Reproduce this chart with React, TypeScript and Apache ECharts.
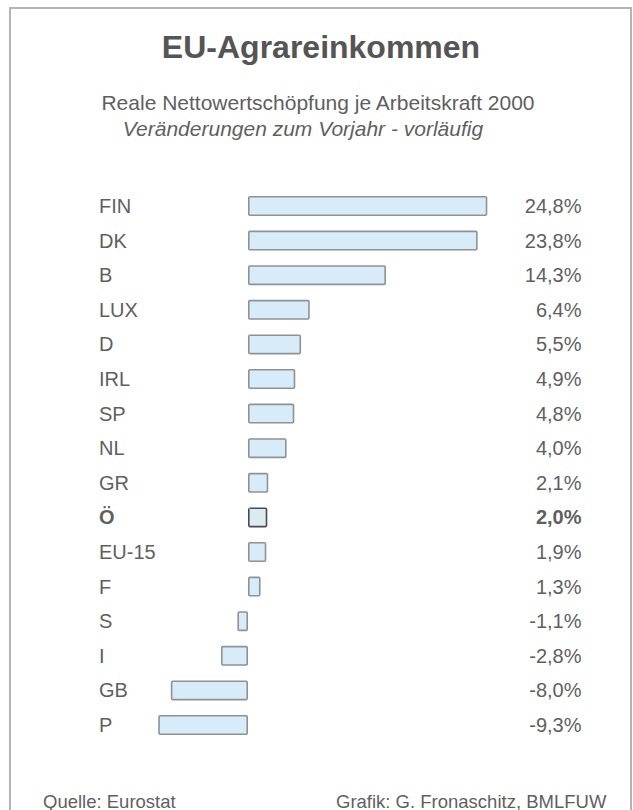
import React, { useEffect, useRef } from "react";
import * as echarts from "echarts";

const countries = ["FIN", "DK", "B", "LUX", "D", "IRL", "SP", "NL", "GR", "Ö", "EU-15", "F", "S", "I", "GB", "P"];
const changes = [24.8, 23.8, 14.3, 6.4, 5.5, 4.9, 4.8, 4.0, 2.1, 2.0, 1.9, 1.3, -1.1, -2.8, -8.0, -9.3];
const highlight = "Ö";

const title = "EU-Agrareinkommen";
const subtitle = "Reale Nettowertschöpfung je Arbeitskraft 2000";
const subtitle2 = "Veränderungen zum Vorjahr - vorläufig";
const sourceText = "Quelle: Eurostat";
const creditText = "Grafik: G. Fronaschitz, BMLFUW";

const FONT = "'Liberation Sans', Arial, sans-serif";
const TEXT = "#5f5f5f";

const fmt = (v: number) => v.toFixed(1).replace(".", ",") + "%";

export default function App() {
  const ref = useRef<HTMLDivElement>(null);
  useEffect(() => {
    if (!ref.current) return;
    const chart = echarts.init(ref.current, undefined, { renderer: "svg" });
    const leftStyle = { align: "left", fontSize: 20, color: TEXT, fontFamily: FONT };
    const rightStyle = { align: "right", fontSize: 20, color: TEXT, fontFamily: FONT };
    const leftLabels = countries.map((c) =>
      c === highlight ? { value: c, textStyle: { ...leftStyle, fontWeight: "bold" } } : c
    );
    const rightLabels = changes.map((v, i) =>
      countries[i] === highlight
        ? { value: fmt(v), textStyle: { ...rightStyle, fontWeight: "bold" } }
        : fmt(v)
    );
    chart.setOption({
      animation: false,
      backgroundColor: "#ffffff",
      textStyle: { fontFamily: FONT },
      grid: { left: 151.5, right: 95.5, top: 188.7, bottom: 810 - 742.3 },
      xAxis: {
        type: "value",
        min: -10,
        max: 30,
        show: false,
      },
      yAxis: [
        {
          type: "category",
          inverse: true,
          data: leftLabels,
          position: "left",
          axisLine: { show: false },
          axisTick: { show: false },
          axisLabel: { ...leftStyle, margin: 52.5 },
        },
        {
          type: "category",
          inverse: true,
          data: rightLabels,
          position: "right",
          axisLine: { show: false },
          axisTick: { show: false },
          axisLabel: { ...rightStyle, margin: 44 },
        },
      ],
      series: [
        {
          type: "bar",
          yAxisIndex: 0,
          barWidth: 20,
          data: changes.map((v, i) => ({
            value: v,
            itemStyle:
              countries[i] === highlight
                ? { color: "#dcebf2", borderColor: "#4a4a4a", borderWidth: 1.6, borderRadius: 1 }
                : { color: "#d7ecf8", borderColor: "#8d9296", borderWidth: 1.6, borderRadius: 1 },
          })),
        },
      ],
      graphic: [
        {
          type: "rect",
          shape: { x: 10, y: 8, width: 621, height: 820 },
          style: { fill: "none", stroke: "#b4b4b4", lineWidth: 2 },
          silent: true,
        },
        {
          type: "text",
          x: 321,
          y: 47,
          style: {
            text: title,
            fontFamily: FONT,
            fontSize: 32,
            fontWeight: "bold",
            fill: "#555555",
            textAlign: "center",
            textVerticalAlign: "middle",
          },
        },
        {
          type: "text",
          x: 318,
          y: 102,
          style: {
            text: subtitle,
            fontFamily: FONT,
            fontSize: 21,
            fill: TEXT,
            textAlign: "center",
            textVerticalAlign: "middle",
          },
        },
        {
          type: "text",
          x: 303,
          y: 128,
          style: {
            text: subtitle2,
            fontFamily: FONT,
            fontSize: 21,
            fontStyle: "italic",
            fill: TEXT,
            textAlign: "center",
            textVerticalAlign: "middle",
          },
        },
        {
          type: "text",
          x: 43,
          y: 801,
          style: {
            text: sourceText,
            fontFamily: FONT,
            fontSize: 18.5,
            fill: TEXT,
            textAlign: "left",
            textVerticalAlign: "middle",
          },
        },
        {
          type: "text",
          x: 336,
          y: 801,
          style: {
            text: creditText,
            fontFamily: FONT,
            fontSize: 18.5,
            fill: TEXT,
            textAlign: "left",
            textVerticalAlign: "middle",
          },
        },
      ],
    });
    return () => chart.dispose();
  }, []);
  return (
    <div
      ref={ref}
      style={{ position: "fixed", left: 0, top: 0, width: 633, height: 810 }}
    />
  );
}
